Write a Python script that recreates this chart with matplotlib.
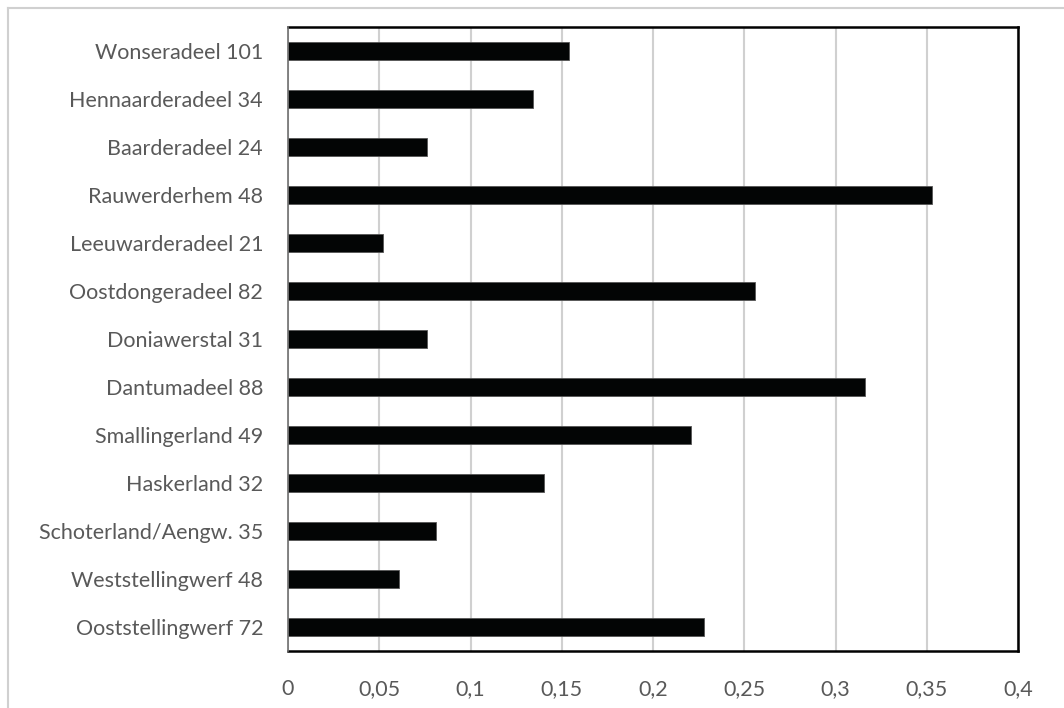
import matplotlib
matplotlib.use("Agg")
import matplotlib.pyplot as plt
from matplotlib.lines import Line2D

# Values (top to bottom)
regions = [
    "Wonseradeel 101",
    "Hennaarderadeel 34",
    "Baarderadeel 24",
    "Rauwerderhem 48",
    "Leeuwarderadeel 21",
    "Oostdongeradeel 82",
    "Doniawerstal 31",
    "Dantumadeel 88",
    "Smallingerland 49",
    "Haskerland 32",
    "Schoterland/Aengw. 35",
    "Weststellingwerf 48",
    "Ooststellingwerf 72",
]
values = [0.154, 0.134, 0.076, 0.353, 0.052, 0.256, 0.076,
          0.316, 0.221, 0.140, 0.081, 0.061, 0.228]
x_ticks = [0, 0.05, 0.1, 0.15, 0.2, 0.25, 0.3, 0.35, 0.4]
x_tick_labels = ["0", "0,05", "0,1", "0,15", "0,2", "0,25", "0,3", "0,35", "0,4"]

plt.rcParams["font.family"] = ["Lato", "DejaVu Sans"]

fig = plt.figure(figsize=(10.64, 7.08), dpi=100)
ax = fig.add_axes([0.2707, 0.0805, 0.9568 - 0.2707, 0.9619 - 0.0805])

# bottom bar first so the list order reads top to bottom
pos = list(range(len(regions)))[::-1]
ax.barh(pos, values, height=0.39, color="#030505", edgecolor="#555555",
        linewidth=0.6, zorder=3)

ax.set_xlim(0, 0.4)
ax.set_ylim(-0.5, len(regions) - 0.5)
ax.set_xticks(x_ticks)
ax.set_xticklabels(x_tick_labels)
ax.set_yticks(pos)
ax.set_yticklabels(regions)

ax.grid(axis="x", color="#d0d0d0", linewidth=1.5, zorder=0)
ax.tick_params(length=0, labelsize=15.5, colors="#595959")
ax.tick_params(axis="y", pad=18)
ax.tick_params(axis="x", pad=20)

for side in ["top", "right", "bottom"]:
    ax.spines[side].set_color("black")
    ax.spines[side].set_linewidth(1.8)
ax.spines["left"].set_color("#707070")
ax.spines["left"].set_linewidth(1.2)
ax.spines["left"].set_zorder(4)

# light border of the chart area
fig.add_artist(Line2D([8 / 1064, 8 / 1064], [0, 1 - 8 / 708],
                      transform=fig.transFigure, color="#d0d0d0", linewidth=1.5))
fig.add_artist(Line2D([8 / 1064, 1], [1 - 8 / 708, 1 - 8 / 708],
                      transform=fig.transFigure, color="#d0d0d0", linewidth=1.5))

fig.savefig("out.png", dpi=100, facecolor="white")
